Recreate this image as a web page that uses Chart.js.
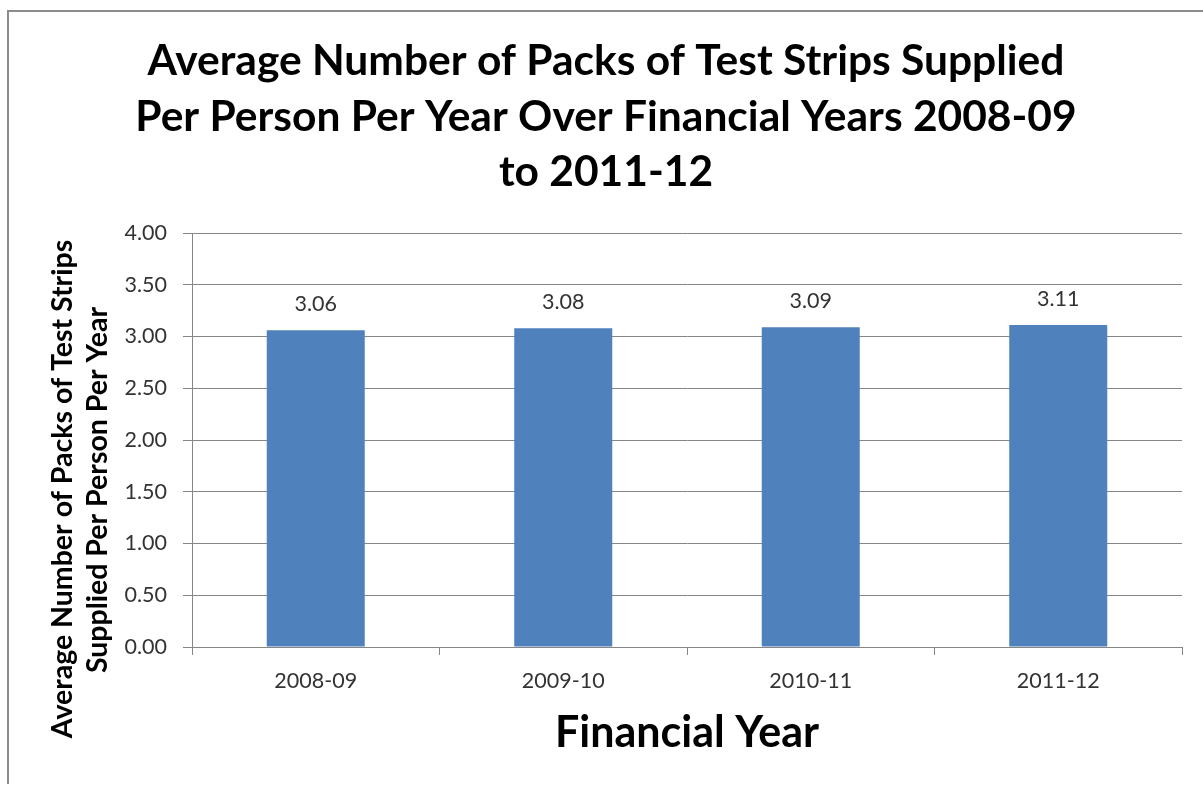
<!DOCTYPE html>
<html><head><meta charset="utf-8">
<script src="https://cdn.jsdelivr.net/npm/chart.js@4.4.1/dist/chart.umd.min.js"></script>
<style>html,body{margin:0;padding:0;background:#fff;} canvas{display:block;}</style>
</head><body>
<canvas id="c" width="1203" height="785"></canvas>
<script>
const categories = ['2008-09', '2009-10', '2010-11', '2011-12'];
const values = [3.06, 3.08, 3.09, 3.11];
const yMin = 0, yMax = 4, yStep = 0.5;
const titleLines = ['Average Number of Packs of Test Strips Supplied', 'Per Person Per Year Over Financial Years 2008-09', 'to 2011-12'];
const yTitleLines = ['Average Number of Packs of Test Strips', 'Supplied Per Person Per Year'];
const xTitle = 'Financial Year';

const FONT = 'Lato, "Open Sans", sans-serif';
const GRID = '#868686';
const TXT = '#333333';

const frame = {
  id: 'frame',
  beforeDraw(chart) {
    const c = chart.ctx;
    c.save();
    c.fillStyle = '#fff';
    c.fillRect(0, 0, chart.width, chart.height);
    c.strokeStyle = '#8c8c8c';
    c.lineWidth = 2;
    c.beginPath();
    c.moveTo(8, 784); c.lineTo(8, 11); c.lineTo(chart.width, 11);
    c.stroke();
    c.restore();
  }
};

const dataLabels = {
  id: 'dataLabels',
  afterDatasetsDraw(chart) {
    const c = chart.ctx;
    const meta = chart.getDatasetMeta(0);
    c.save();
    c.font = '21.5px ' + FONT;
    c.fillStyle = TXT;
    c.textAlign = 'center';
    c.textBaseline = 'middle';
    meta.data.forEach((bar, i) => {
      c.fillText(values[i].toFixed(2), bar.x, bar.y - 26);
    });
    c.restore();
  }
};

const yTitle = {
  id: 'yTitle',
  afterDraw(chart) {
    const c = chart.ctx;
    const a = chart.chartArea;
    const mid = (a.top + a.bottom) / 2;
    const left = chart.scales.y.left;
    c.save();
    c.font = 'bold 28.5px ' + FONT;
    c.fillStyle = '#000';
    c.textAlign = 'center';
    c.textBaseline = 'middle';
    [[left + 33, mid + 49], [left + 68, mid + 50]].forEach((p, i) => {
      c.save();
      c.translate(p[0], p[1]);
      c.rotate(-Math.PI / 2);
      c.fillText(yTitleLines[i], 0, 0);
      c.restore();
    });
    c.restore();
  }
};

new Chart(document.getElementById('c'), {
  type: 'bar',
  data: {
    labels: categories,
    datasets: [{
      data: values,
      backgroundColor: '#4F81BD',
      borderWidth: 0,
      categoryPercentage: 1,
      barPercentage: 0.396
    }]
  },
  options: {
    responsive: false,
    animation: false,
    devicePixelRatio: 1,
    layout: { padding: { left: 30, right: 21, top: 0, bottom: 0 } },
    plugins: {
      legend: { display: false },
      tooltip: { enabled: false },
      title: {
        display: true,
        text: titleLines,
        color: '#000',
        font: { family: FONT, size: 42.5, weight: 'bold', lineHeight: '55.5px' },
        padding: { top: 34, bottom: 32.5 }
      }
    },
    scales: {
      x: {
        grid: { display: true, drawOnChartArea: false, drawTicks: true, tickLength: 8, color: GRID, offset: true },
        border: { display: true, color: GRID },
        ticks: { color: TXT, font: { family: FONT, size: 21.5 }, padding: 13 },
        title: { display: true, text: xTitle, color: '#000', font: { family: FONT, size: 43, weight: 'bold', lineHeight: 1.2 }, padding: { top: 0, bottom: 26 } },
        afterFit(s) { s.height = 138; }
      },
      y: {
        min: yMin, max: yMax,
        ticks: { stepSize: yStep, color: TXT, font: { family: FONT, size: 21.5 }, padding: 16, callback: v => Number(v).toFixed(2) },
        grid: { color: GRID, tickLength: 9 },
        border: { display: true, color: GRID },
        afterFit(s) { s.width = 162; }
      }
    }
  },
  plugins: [frame, dataLabels, yTitle]
});
</script>
</body></html>
